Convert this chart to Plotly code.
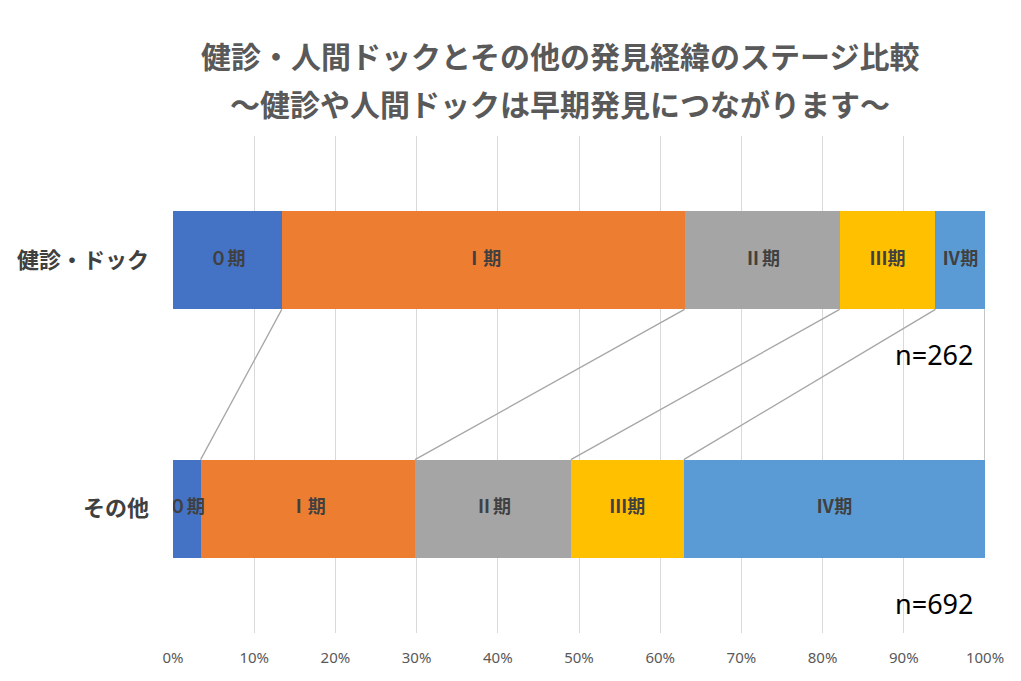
import plotly.graph_objects as go
import numpy as np

# categories (bottom -> top) and stage shares in %
categories = ['その他', '健診・ドック']
stages = ['０期', 'Ⅰ期', 'Ⅱ期', 'Ⅲ期', 'Ⅳ期']
kenshin = [13.4, 49.6, 19.1, 11.8, 6.1]
sonota = [3.4, 26.4, 19.2, 13.9, 37.1]
n_labels = ['n=692', 'n=262']
x_ticks = [0, 10, 20, 30, 40, 50, 60, 70, 80, 90, 100]

colors = ['#4472C4', '#ED7D31', '#A5A5A5', '#FFC000', '#5B9BD5']
bar_w = 0.395
jp_font = 'Noto Sans CJK JP'

# page body has an 8px margin, so the figure is a bit smaller than the window
W, H = 1013, 673
m_l, m_r, m_t, m_b = 165, 36, 128, 48
plot_h = H - m_t - m_b
plot_w = W - m_l - m_r

fig = go.Figure()

for i, st in enumerate(stages):
    fig.add_trace(go.Bar(
        y=[0, 1], x=[sonota[i], kenshin[i]], orientation='h',
        width=bar_w, marker=dict(color=colors[i], line=dict(width=0)),
        hoverinfo='skip', showlegend=False, name=st,
    ))

# series lines between the two bars
cum_top = np.cumsum(kenshin)
cum_bot = np.cumsum(sonota)
for a, b in zip(cum_top, cum_bot):
    fig.add_trace(go.Scatter(
        x=[a, b], y=[1 - bar_w / 2, 0 + bar_w / 2], mode='lines',
        line=dict(color='#A6A6A6', width=1.3),
        hoverinfo='skip', showlegend=False,
    ))

# segment labels drawn on top so the narrow one can spill over
mid_top = cum_top - np.array(kenshin) / 2
mid_bot = cum_bot - np.array(sonota) / 2
fig.add_trace(go.Scatter(
    x=list(mid_bot) + list(mid_top), y=[0] * 5 + [1] * 5,
    mode='text', text=['<b>' + s + '</b>' for s in stages] * 2,
    textposition='middle center',
    textfont=dict(family=jp_font, size=18, color='#404040'),
    hoverinfo='skip', showlegend=False,
))

# n= annotations
for yv, lab in zip([0, 1], n_labels):
    fig.add_annotation(x=98.8, y=yv - 0.38, text=lab, showarrow=False,
                       xanchor='right', yanchor='middle',
                       font=dict(family='Noto Sans', size=27, color='#000000'))

title_1 = '健診・人間ドックとその他の発見経緯のステージ比較'
title_2 = '～健診や人間ドックは早期発見につながります～'
title_x = (552 - m_l) / plot_w
for txt, ypix in [(title_1, 47), (title_2, 95)]:
    fig.add_annotation(x=title_x, y=(H - m_b - ypix) / plot_h,
                       xref='paper', yref='paper',
                       xanchor='center', yanchor='middle',
                       text='<b>' + txt + '</b>', showarrow=False,
                       font=dict(family=jp_font, size=30, color='#595959'))

fig.update_layout(
    barmode='stack',
    width=W, height=H,
    margin=dict(l=m_l, r=m_r, t=m_t, b=m_b),
    paper_bgcolor='white', plot_bgcolor='white',
    font=dict(family=jp_font),
    xaxis=dict(range=[0, 100], tickvals=x_ticks,
               ticktext=[f'{v}%' for v in x_ticks],
               showgrid=True, gridcolor='#D9D9D9', gridwidth=1.3,
               zeroline=False, showline=False, ticks='',
               ticklabelstandoff=14, automargin=False,
               tickfont=dict(family='Noto Sans', size=15, color='#595959')),
    yaxis=dict(range=[-0.5, 1.5], tickvals=[0, 1],
               ticktext=['<b>' + c + '</b>' for c in categories],
               showgrid=False, zeroline=False, showline=False, ticks='',
               ticklabelstandoff=23, automargin=False,
               tickfont=dict(family=jp_font, size=22, color='#404040')),
)

fig.write_html('out.html')
